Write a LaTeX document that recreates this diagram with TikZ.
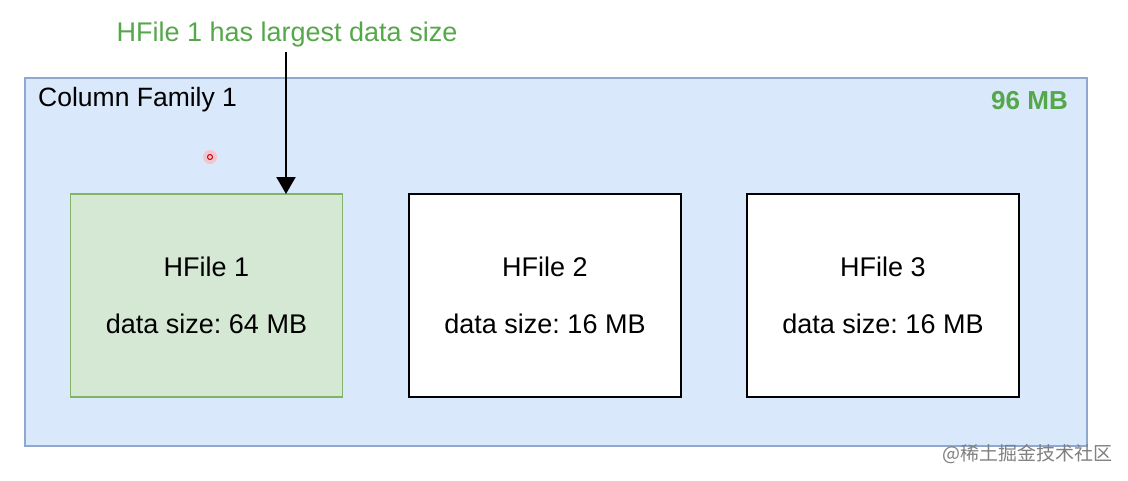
\documentclass[tikz,border=0pt]{standalone}
\usepackage{fontspec}
\setmainfont{Liberation Sans}
\newfontfamily\cjk{Noto Sans CJK SC}
\usetikzlibrary{arrows.meta}
\frenchspacing
\definecolor{cfFill}{HTML}{DAE8FC}
\definecolor{cfLine}{HTML}{8FA8CF}
\definecolor{hgFill}{HTML}{D5E8D4}
\definecolor{hgLine}{HTML}{82B366}
\definecolor{grText}{HTML}{55A84A}
\definecolor{wmText}{HTML}{808080}
\tikzset{
  family/.style={draw=cfLine, fill=cfFill, line width=1.2pt},
  hfile/.style={draw=black, fill=white, line width=1.8pt, minimum width=272pt, minimum height=203pt, inner sep=0pt, align=center, font=\fontsize{27}{30}\selectfont},
  hfilegreen/.style={hfile, draw=hgLine, fill=hgFill, line width=1.3pt},
  lbl/.style={inner sep=0pt, font=\fontsize{26.5}{30}\selectfont},
  arr/.style={-{Triangle[length=17pt,width=19pt]}, line width=2pt}
}
\begin{document}
\begin{tikzpicture}[x=1pt,y=-1pt]
\useasboundingbox (0,0) rectangle (1128,480);
\fill[white] (0,0) rectangle (1128,480);
\draw[family] (25,78) rectangle (1087,446);
\node[lbl, anchor=west] (cf) at (38,100) {Column Family 1};
\node[lbl, anchor=east, text=grText, font=\fontsize{26}{30}\selectfont\bfseries] (total) at (1068,101) {96 MB};
\node[hfilegreen] (h1) at (206.5,295.5) {HFile 1\\[27pt]data size: 64 MB};
\node[hfile] (h2) at (545,295.5) {HFile 2\\[27pt]data size: 16 MB};
\node[hfile] (h3) at (883,295.5) {HFile 3\\[27pt]data size: 16 MB};
\node[lbl, text=grText, font=\fontsize{27}{30}\selectfont] (note) at (287,35) {HFile 1 has largest data size};
\coordinate (tip) at (286,194);
\draw[arr] (286,52) -- (tip);
\fill[red!30, opacity=0.6] (210,157) circle (7pt);
\draw[red!80!black, line width=1pt] (210,157) circle (2.5pt);
\node[inner sep=0pt, anchor=east, text=wmText, font=\cjk\fontsize{19}{21}\selectfont] (wm) at (1113,454) {@稀土掘金技术社区};
\end{tikzpicture}
\end{document}
